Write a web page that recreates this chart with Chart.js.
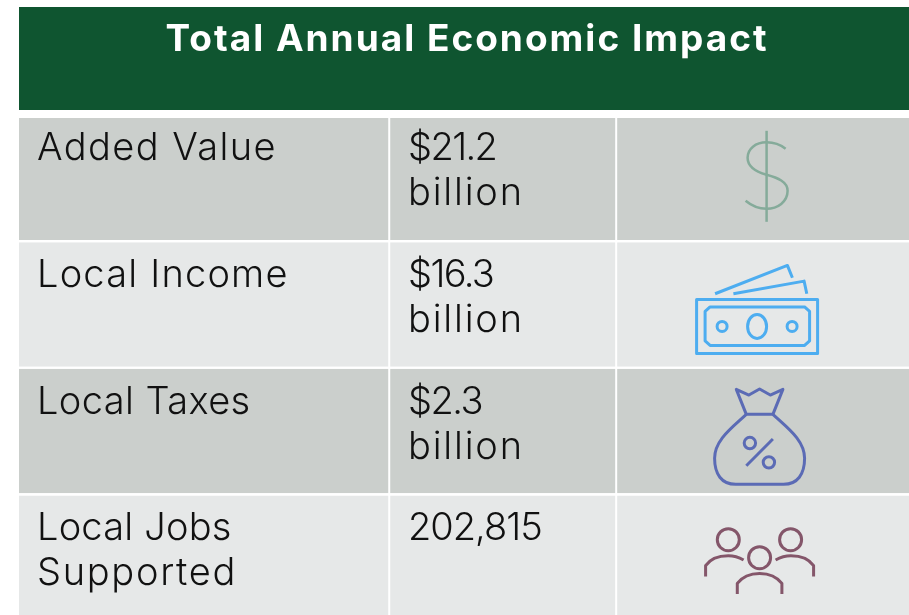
<!DOCTYPE html>
<html>
<head>
<meta charset="utf-8">
<title>Total Annual Economic Impact</title>
<script src="https://cdn.jsdelivr.net/npm/chart.js@4/dist/chart.umd.min.js"></script>
<style>
    html, body { margin: 0; padding: 0; width: 909px; height: 615px; overflow: hidden; background: #fff; }
    canvas { display: block; }
</style>
</head>
<body>
<canvas id="tabela" width="909" height="621"></canvas>
<script>
const titulo = "Total Annual Economic Impact";
const categorias = [["Added Value"], ["Local Income"], ["Local Taxes"], ["Local Jobs", "Supported"]];
const valores = [["$21.2", "billion"], ["$16.3", "billion"], ["$2.3", "billion"], ["202,815"]];

// largura das colunas em % da tabela
const colunaRotulo = [41.6, 41.6, 41.6, 41.6];
const colunaValor = [25.5, 25.5, 25.5, 25.5];
const colunaIcone = [32.9, 32.9, 32.9, 32.9];

const corLinhas = ["#cbcfcc", "#e6e8e8", "#cbcfcc", "#e6e8e8"];
const fonteTexto = "300 38px Inter";
const fonteTitulo = "700 37px Inter";

// ajuste de espacamento para chegar na largura original de cada texto
const espacoRotulo = [[1.4], [1.2], [0.4], [0.2, 1.7]];
const espacoValor = [[-1.6, 1.8], [-1.6, 1.8], [-1.5, 1.8], [-1]];

// icones desenhados em volta do centro de cada celula
const icones = [
    { dx: 4, dy: -2, cor: "#85ab9a", largura: 2.5, caminhos: [
        "M0,-45 L0,46",
        "M19,-27 C14,-31 8,-33.5 0,-33.5 C-11,-33.5 -19,-27 -19,-18 C-19,-8 -9,-3.5 0,-1 C11,2 21,6 21,15 C21,26 11,33 0,33 C-8,33 -15,30 -21,25"
    ]},
    { dx: -5.5, dy: 22, cor: "#4dadf0", largura: 3, caminhos: [
        "M-60.5,-27 H60.5 V27 H-60.5 Z",
        "M-47,-19.5 H47.5 L52.5,-15 V14.5 L47.5,19 H-47 L-52,14.5 V-15 Z",
        "M-42,-32.7 L30.3,-61 L35.3,-48.7",
        "M-23.7,-32.7 L47,-45.3 L49.7,-32.7",
        "M-30,0 A5,5 0 1,1 -40,0 A5,5 0 1,1 -30,0",
        "M9.5,0 A9.5,12 0 1,1 -9.5,0 A9.5,12 0 1,1 9.5,0",
        "M40,0 A5,5 0 1,1 30,0 A5,5 0 1,1 40,0"
    ]},
    { dx: -3, dy: -1, cor: "#5b6bb5", largura: 3, caminhos: [
        "M-13.3,-15.7 L-23.3,-40.7 L-10.7,-35 L0,-41 L10.7,-35 L23.3,-40.7 L13.3,-15.7 Z",
        "M-13.3,-15.7 C-28,-2 -45,10 -45,28.3 C-45,44 -38,54.3 -24,54.3 H24 C38,54.3 45,44 45,28.3 C45,10 28,-2 13.3,-15.7",
        "M-13.3,35.7 L13.3,9",
        "M-4,13 A5.7,5.7 0 1,1 -15.4,13 A5.7,5.7 0 1,1 -4,13",
        "M15,32.3 A5.7,5.7 0 1,1 3.6,32.3 A5.7,5.7 0 1,1 15,32.3"
    ]},
    { dx: -3, dy: 0, cor: "#84566a", largura: 3, caminhos: [
        "M-20.3,-18 A11,11 0 1,1 -42.3,-18 A11,11 0 1,1 -20.3,-18",
        "M42,-18 A11,11 0 1,1 20,-18 A11,11 0 1,1 42,-18",
        "M11,0 A11,11 0 1,1 -11,0 A11,11 0 1,1 11,0",
        "M-54,18.7 V8 C-50,2 -42,-2 -31.3,-2 C-26,-2 -20,0 -16,2.3",
        "M54,18.7 V8 C50,2 42,-2 31.3,-2 C26,-2 20,0 16,2.3",
        "M-22.3,36.3 V25.7 C-18,20 -10,15.7 0,15.7 C10,15.7 18,20 22.3,25.7 V36.3"
    ]}
];

const pluginTabela = {
    id: "pluginTabela",
    afterDatasetsDraw(chart) {
        const ctx = chart.ctx;
        const y = chart.scales.y;

        // faixa do titulo e o espaco branco ate a primeira linha
        ctx.save();
        ctx.fillStyle = "#ffffff";
        ctx.fillRect(0, 110, 909, 8);
        ctx.fillStyle = "#0f5530";
        ctx.fillRect(19, 7, 890, 103);
        ctx.fillStyle = "#ffffff";
        ctx.font = fonteTitulo;
        ctx.letterSpacing = "2px";
        ctx.textAlign = "center";
        ctx.textBaseline = "alphabetic";
        ctx.fillText(titulo, 467, 51);

        ctx.fillStyle = "#111111";
        ctx.font = fonteTexto;
        ctx.textAlign = "left";
        categorias.forEach((linhas, i) => {
            const base = y.getPixelForValue(i) - 17.5;
            linhas.forEach((t, j) => {
                ctx.letterSpacing = espacoRotulo[i][j] + "px";
                ctx.fillText(t, 37, base + j * 45);
            });
            valores[i].forEach((t, j) => {
                ctx.letterSpacing = espacoValor[i][j] + "px";
                ctx.fillText(t, 408, base + j * 45);
            });

            const barra = chart.getDatasetMeta(2).data[i];
            const cx = (barra.base + barra.x) / 2;
            const ic = icones[i];
            ctx.save();
            ctx.translate(cx + ic.dx, y.getPixelForValue(i) + ic.dy);
            ctx.strokeStyle = ic.cor;
            ctx.lineWidth = ic.largura;
            ctx.lineJoin = "round";
            ic.caminhos.forEach(p => ctx.stroke(new Path2D(p)));
            ctx.restore();
        });
        ctx.restore();
    }
};

new Chart(document.getElementById("tabela").getContext("2d"), {
    type: "bar",
    data: {
        labels: categorias.map(l => l.join(" ")),
        datasets: [colunaRotulo, colunaValor, colunaIcone].map((dados, n) => ({
            label: ["Categoria", "Valor", "Icone"][n],
            data: dados,
            backgroundColor: corLinhas,
            borderColor: "#ffffff",
            borderWidth: { left: n === 0 ? 0 : 1, right: n === 2 ? 0 : 1, top: 0, bottom: 0 },
            borderSkipped: false,
            barPercentage: 1,
            categoryPercentage: 0.984
        }))
    },
    options: {
        indexAxis: "y",
        responsive: false,
        animation: false,
        layout: { padding: { left: 19, top: 114.5, right: 0, bottom: 0 } },
        plugins: { legend: { display: false }, title: { display: false }, tooltip: { enabled: false } },
        scales: {
            x: { stacked: true, display: false, min: 0, max: 100 },
            y: { stacked: true, display: false }
        }
    },
    plugins: [pluginTabela]
});
</script>
</body>
</html>
